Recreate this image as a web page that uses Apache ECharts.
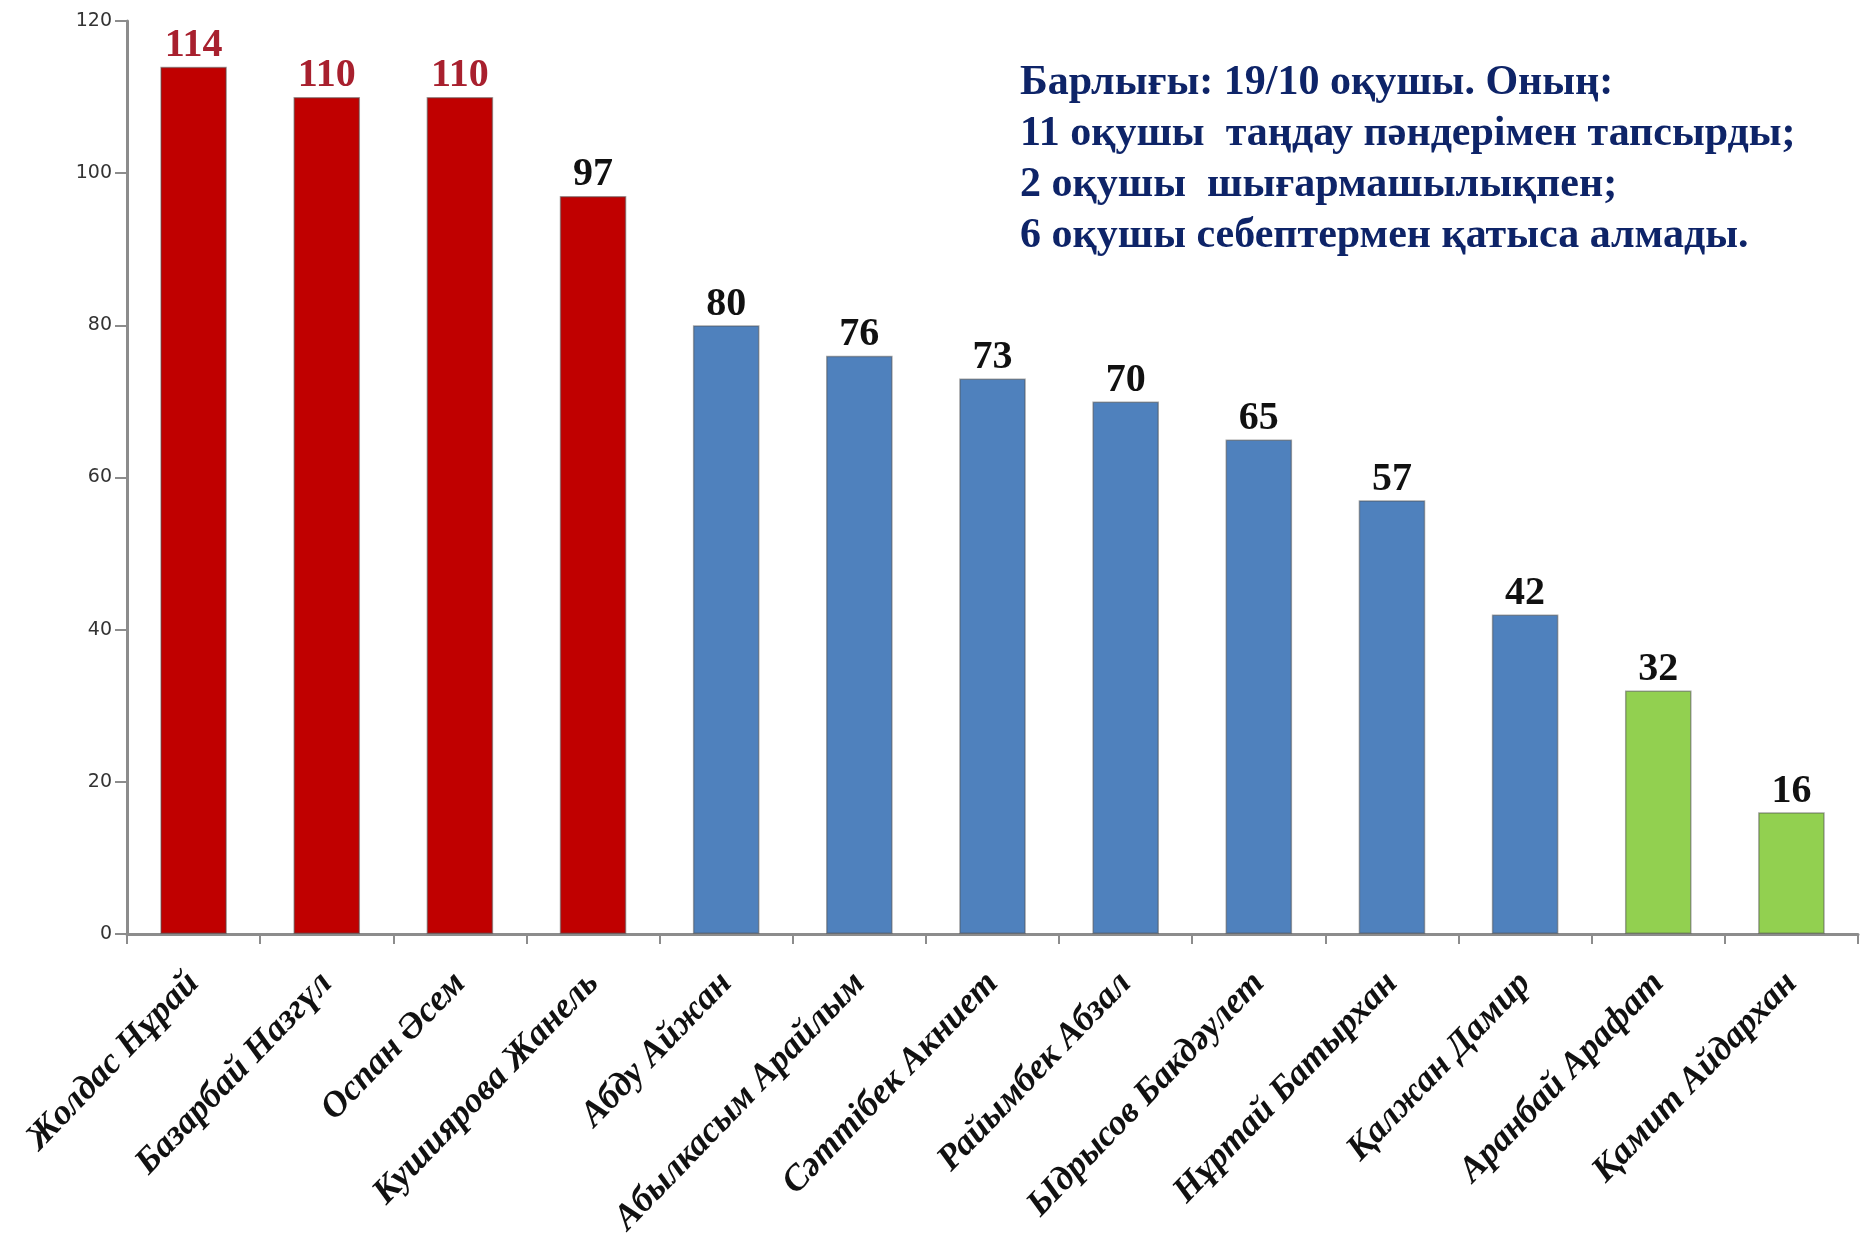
<!DOCTYPE html>
<html>
<head>
<meta charset="utf-8">
<script src="https://cdn.jsdelivr.net/npm/echarts@6/dist/echarts.min.js"></script>
<style>
  html, body { margin: 0; padding: 0; background: #fff; }
  #chart { width: 1860px; height: 1249px; }
</style>
</head>
<body>
<div id="chart"></div>
<script>
// оқушылар және ұпайлар
const names = [
    'Жолдас Нұрай', 'Базарбай Назгүл', 'Оспан Әсем', 'Кушиярова Жанель',
    'Абду Айжан', 'Абылкасым Арайлым', 'Сәттібек Акниет', 'Райымбек Абзал',
    'Ыдрысов Бакдәулет', 'Нұртай Батырхан', 'Қалжан Дамир', 'Аранбай Арафат',
    'Қамит Айдархан'
];
const scores = [114, 110, 110, 97, 80, 76, 73, 70, 65, 57, 42, 32, 16];
const yTicks = [0, 20, 40, 60, 80, 100, 120];
const noteLines = [
    'Барлығы: 19/10 оқушы. Оның:',
    '11 оқушы  таңдау пәндерімен тапсырды;',
    '2 оқушы  шығармашылықпен;',
    '6 оқушы себептермен қатыса алмады.'
];

// түстер (тек стиль)
const barColors = ['#c00000', '#c00000', '#c00000', '#c00000',
    '#4f81bd', '#4f81bd', '#4f81bd', '#4f81bd', '#4f81bd', '#4f81bd', '#4f81bd',
    '#92d050', '#92d050'];
const labelColors = ['#a8202e', '#a8202e', '#a8202e'];

let chart = echarts.init(document.getElementById('chart'));

let option = {
    animation: false,
    backgroundColor: '#fff',
    grid: { left: 127, right: 2, top: 21, bottom: 315 },
    xAxis: {
        type: 'category',
        data: names,
        axisLine: { lineStyle: { color: '#8c8c8c', width: 3 } },
        axisTick: { show: true, length: 10, lineStyle: { color: '#8c8c8c', width: 2 } },
        axisLabel: {
            interval: 0,
            rotate: 46,
            margin: 44,
            fontFamily: 'Liberation Serif',
            fontWeight: 'bold',
            fontStyle: 'italic',
            fontSize: 36,
            color: '#111'
        }
    },
    yAxis: {
        type: 'value',
        min: yTicks[0],
        max: yTicks[yTicks.length - 1],
        interval: yTicks[1] - yTicks[0],
        axisLine: { show: true, lineStyle: { color: '#8c8c8c', width: 3 } },
        axisTick: { show: true, length: 12, lineStyle: { color: '#8c8c8c', width: 2 } },
        splitLine: { show: false },
        axisLabel: {
            margin: 15,
            fontFamily: 'DejaVu Sans',
            fontSize: 19,
            color: '#333'
        }
    },
    series: [{
        type: 'bar',
        barWidth: '50%',
        data: scores.map((v, i) => ({
            value: v,
            itemStyle: {
                color: barColors[i],
                borderColor: 'rgba(80,80,80,0.5)',
                borderWidth: 1.5
            },
            label: { color: labelColors[i] || '#111' }
        })),
        label: {
            show: true,
            position: 'top',
            distance: 1,
            fontFamily: 'Liberation Serif',
            fontWeight: 'bold',
            fontSize: 40
        }
    }],
    graphic: noteLines.map((t, i) => ({
        type: 'text',
        left: 1020,
        top: 62 + i * 51,
        style: {
            text: t,
            font: 'bold 42px "Liberation Serif"',
            fill: '#0e2468'
        }
    }))
};

chart.setOption(option);
</script>
</body>
</html>
